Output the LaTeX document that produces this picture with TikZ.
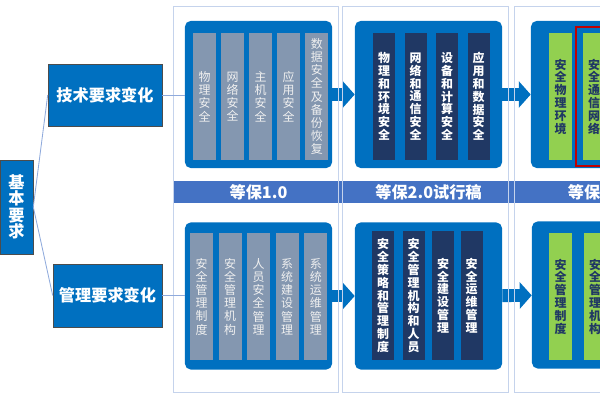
\documentclass[tikz,border=0pt]{standalone}
\usepackage{fontspec}
\setmainfont{Noto Sans CJK SC}
\usetikzlibrary{positioning, arrows.meta}
\definecolor{panelblue}{HTML}{0070C0}
\definecolor{bannerblue}{HTML}{4472C4}
\definecolor{oldgray}{HTML}{8497B0}
\definecolor{navy}{HTML}{203864}
\definecolor{newgreen}{HTML}{92D050}
\definecolor{framegray}{HTML}{C5D3EC}
\definecolor{linkblue}{HTML}{8FAADC}
\definecolor{markred}{HTML}{C00000}

\begin{document}
\begin{tikzpicture}[
    x=0.025cm, y=-0.025cm, % 1 unit = 1 pixel of the layout
    head/.style={
      rectangle,
      fill=panelblue,
      draw=black!70,
      line width=0.4pt,
      text=white,
      inner sep=0pt,
      align=center,
      font=\fontsize{11.5}{11.6}\selectfont\bfseries
    },
    panel/.style={
      rectangle,
      rounded corners=4pt,
      fill=panelblue,
      minimum width=3.675cm,
      minimum height=3.675cm,
      inner sep=0pt
    },
    strip/.style={
      rectangle,
      inner sep=0pt,
      minimum height=3.175cm,
      align=center
    },
    oldstrip/.style={
      strip,
      fill=oldgray,
      text=white!88!gray,
      minimum width=0.575cm,
      font=\fontsize{8.5}{9.4}\selectfont
    },
    midstrip/.style={
      strip,
      fill=navy,
      text=white,
      minimum width=0.55cm,
      font=\fontsize{8.5}{9.1}\selectfont\bfseries
    },
    newstrip/.style={
      strip,
      fill=newgreen,
      text=navy,
      minimum width=0.575cm,
      font=\fontsize{8.5}{9.1}\selectfont\bfseries
    },
    bannertext/.style={
      text=white,
      font=\fontsize{11.5}{12}\selectfont\bfseries
    },
    frame/.style={draw=framegray, line width=0.6pt},
    link/.style={draw=linkblue, line width=0.6pt},
    blockarrow/.style={
      draw=panelblue,
      line width=9.2pt,
      -{Triangle[width=18.5pt, length=8.5pt]}
    }
  ]

  \useasboundingbox (0,0) rectangle (600,400);
  \clip (0,0) rectangle (600,400);

  % Gốc và hai nhánh
  \node[head, minimum width=0.825cm, minimum height=2.35cm] (root) at (16.5,207) {基\\本\\要\\求};
  \node[head, minimum width=2.85cm, minimum height=1.55cm] (tech) at (105,95) {技术要求变化};
  \node[head, minimum width=2.725cm, minimum height=1.575cm] (mgmt) at (107.5,295.5) {管理要求变化};

  % Thanh tiêu đề
  \fill[bannerblue] (173,181) rectangle (600,203);
  \node[bannertext] (v1) at (258.5,192) {等保1.0};
  \node[bannertext] (v2) at (428.5,192) {等保2.0试行稿};
  \node[bannertext, anchor=west] (v3) at (563,192) {等保};

  % Các khối
  \node[panel] (p1up) at (258.5,94.5) {};
  \node[panel] (p2up) at (428.5,94.5) {};
  \node[panel] (p3up) at (604.5,94.5) {};
  \node[panel] (p1dn) at (258.5,296) {};
  \node[panel] (p2dn) at (428.5,296) {};
  \node[panel] (p3dn) at (605.5,295) {};

  % Mũi tên
  \draw[blockarrow] (p1up) -- (p2up);
  \draw[blockarrow] (p2up) -- (p3up);
  \draw[blockarrow] (p1dn) -- (p2dn);
  \draw[blockarrow] (p2dn) -- (p3dn);

  % Khung cột
  \draw[frame] (173,6) rectangle (338,392);
  \draw[frame] (342,6) rectangle (508,392);
  \draw[frame] (514,6) rectangle (680,392);

  % Đường nối
  \draw[link] (root.east) -- (tech.west);
  \draw[link] (root.east) -- (mgmt.west);
  \draw[link] (tech.east) -- (tech.east -| p1up.west);
  \draw[link] (mgmt.east) -- (mgmt.east -| p1dn.west);

  % Cột 1 - trên
  \node[oldstrip] (t1a) at (204.5,96.5) {物\\理\\安\\全};
  \node[oldstrip, right=0.1125cm of t1a] (t1b) {网\\络\\安\\全};
  \node[oldstrip, right=0.1125cm of t1b] (t1c) {主\\机\\安\\全};
  \node[oldstrip, right=0.1125cm of t1c] (t1d) {应\\用\\安\\全};
  \node[oldstrip, right=0.1125cm of t1d] (t1e) {数\\据\\安\\全\\及\\备\\份\\恢\\复};

  % Cột 1 - dưới
  \node[oldstrip] (m1a) at (201.5,296.5) {安\\全\\管\\理\\制\\度};
  \node[oldstrip, right=0.125cm of m1a] (m1b) {安\\全\\管\\理\\机\\构};
  \node[oldstrip, right=0.125cm of m1b] (m1c) {人\\员\\安\\全\\管\\理};
  \node[oldstrip, right=0.125cm of m1c] (m1d) {系\\统\\建\\设\\管\\理};
  \node[oldstrip, right=0.125cm of m1d] (m1e) {系\\统\\运\\维\\管\\理};

  % Cột 2 - trên
  \node[midstrip] (t2a) at (384,96.5) {物\\理\\和\\环\\境\\安\\全};
  \node[midstrip, right=0.225cm of t2a] (t2b) {网\\络\\和\\通\\信\\安\\全};
  \node[midstrip, right=0.225cm of t2b] (t2c) {设\\备\\和\\计\\算\\安\\全};
  \node[midstrip, right=0.225cm of t2c] (t2d) {应\\用\\和\\数\\据\\安\\全};

  % Cột 2 - dưới
  \node[midstrip, minimum height=3.225cm] (m2a) at (383,295.5) {安\\全\\策\\略\\和\\管\\理\\制\\度};
  \node[midstrip, minimum height=3.225cm, right=0.2cm of m2a] (m2b) {安\\全\\管\\理\\机\\构\\和\\人\\员};
  \node[midstrip, minimum height=3.225cm, right=0.175cm of m2b] (m2c) {安\\全\\建\\设\\管\\理};
  \node[midstrip, minimum height=3.225cm, right=0.15cm of m2c] (m2d) {安\\全\\运\\维\\管\\理};

  % Cột 3
  \node[newstrip] (t3a) at (560.5,96.5) {安\\全\\物\\理\\环\\境};
  \node[newstrip, right=0.25cm of t3a] (t3b) {安\\全\\通\\信\\网\\络};
  \node[newstrip] (m3a) at (560.5,296.5) {安\\全\\管\\理\\制\\度};
  \node[newstrip, right=0.275cm of m3a] (m3b) {安\\全\\管\\理\\机\\构};

  % Viền đỏ
  \draw[markred, line width=1.3pt] (576,27) rectangle (650,166);

\end{tikzpicture}
\end{document}
